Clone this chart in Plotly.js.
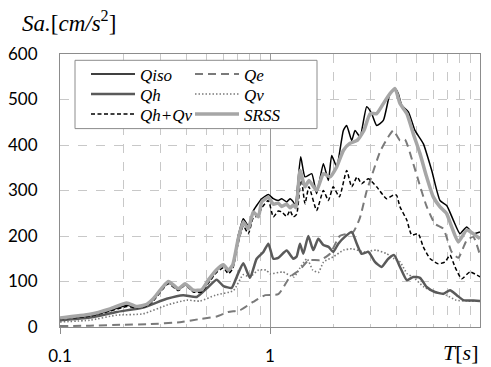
<!DOCTYPE html>
<html>
<head>
<meta charset="utf-8">
<script src="https://cdn.plot.ly/plotly-3.0.1.min.js"></script>
<style>html,body{margin:0;padding:0;background:#fff;}#chart{width:491px;height:367px;}</style>
</head>
<body>
<div id="chart"></div>
<script>
// Periods T [s] and spectral accelerations Sa [cm/s^2]
const T_Qiso = [0.1,0.139,0.173,0.208,0.232,0.259,0.278,0.328,0.366,0.394,0.431,0.473,0.508,0.557,0.6,0.633,0.664,0.706,0.746,0.789,0.832,0.864,0.913,0.982,1.037,1.095,1.137,1.2,1.245,1.291,1.32,1.40,1.468,1.58,1.668,1.795,1.897,1.967,2.078,2.235,2.318,2.449,2.54,2.683,2.887,3.05,3.222,3.465,3.728,3.94,4.08,4.24,4.56,4.9,5.37,5.89,6.45,6.94,7.46,8.03,8.64,9.29,10];
const Sa_Qiso = [18,25,36,48,43,48,60,97,82,93,79,79,100,124,135,122,134,200,238,222,255,267,282,291,282,278,282,275,282,275,266,374,330,337,293,359,322,377,352,432,443,410,432,418,484,469,443,454,513,524,513,487,473,432,403,344,278,267,235,205,220,205,209];

const T_SRSS = [0.1,0.139,0.173,0.208,0.232,0.259,0.278,0.328,0.366,0.394,0.431,0.473,0.508,0.557,0.6,0.633,0.664,0.706,0.746,0.789,0.832,0.88,0.913,0.982,1.037,1.095,1.137,1.2,1.245,1.291,1.33,1.39,1.468,1.533,1.668,1.795,1.93,2.078,2.235,2.39,2.6,2.8,3.0,3.22,3.465,3.728,3.94,4.16,4.48,4.81,5.18,5.57,5.99,6.45,6.94,7.33,7.88,8.64,9.29,10];
const Sa_SRSS = [20,28,40,53,45,50,62,100,84,95,81,82,103,126,137,125,136,194,231,216,253,242,275,285,270,272,265,270,262,268,262,344,308,322,300,337,330,352,388,403,410,432,469,469,491,513,524,491,469,425,381,330,286,264,249,220,187,213,205,194];

const T_QhQv = [0.1,0.139,0.173,0.208,0.232,0.259,0.278,0.328,0.366,0.394,0.431,0.473,0.508,0.557,0.6,0.633,0.664,0.706,0.746,0.789,0.832,0.88,0.913,0.982,1.037,1.095,1.137,1.2,1.245,1.291,1.34,1.405,1.468,1.533,1.668,1.795,1.897,2.0,2.14,2.318,2.449,2.6,2.73,2.94,3.22,3.59,3.87,4.0,4.16,4.48,4.73,5.08,5.37,5.79,6.33,6.81,7.2,7.6,8.18,8.96,10];
const Sa_QhQv = [17,24,35,45,42,46,57,95,80,92,77,77,96,120,130,117,128,185,222,205,240,245,262,278,242,255,253,243,256,242,248,330,271,308,256,300,278,308,286,344,308,330,315,326,308,282,290,290,264,235,202,205,176,150,139,143,158,132,106,121,110];

const T_Qe = [0.1,0.139,0.2,0.26,0.38,0.47,0.557,0.633,0.72,0.83,0.95,1.095,1.245,1.38,1.53,1.73,1.93,2.15,2.49,2.68,2.89,3.0,3.34,3.66,3.87,4.16,4.39,4.81,5.18,5.57,6.1,6.69,7.33,7.88,8.64,9.29,10];
const Sa_Qe = [2,3,5,6,11,18,23,33,37,55,70,72,110,125,147,147,161,200,209,240,300,322,385,418,432,410,412,359,310,265,227,216,165,152,190,198,158];

const T_Qh = [0.1,0.139,0.186,0.249,0.322,0.386,0.448,0.508,0.557,0.6,0.657,0.694,0.746,0.803,0.864,0.93,0.982,1.037,1.095,1.2,1.291,1.34,1.389,1.44,1.522,1.607,1.698,1.795,1.9,2.0,2.115,2.27,2.45,2.59,2.73,2.94,3.16,3.4,3.66,3.9,4.16,4.48,4.81,5.18,5.57,6.1,6.69,7.2,7.75,8.33,9.3,10];
const Sa_Qh = [15,21,33,43,62,70,66,88,104,90,86,110,140,108,150,165,183,150,152,168,150,155,183,161,200,169,194,180,176,165,183,198,209,183,161,165,143,132,150,158,132,103,110,108,88,77,73,81,70,59,58,57];

const T_Qv = [0.1,0.139,0.186,0.249,0.322,0.401,0.464,0.55,0.669,0.746,0.8,0.88,0.96,1.0,1.15,1.3,1.39,1.5,1.6,1.7,1.8,2.0,2.24,2.45,2.8,3.2,3.6,3.9,4.16,4.5,4.8,5.4,6.1,6.9,7.7,8.6,10];
const Sa_Qv = [11,15,26,29,48,59,57,70,80,115,110,125,125,117,121,110,130,150,125,120,143,154,169,172,165,169,161,150,143,117,110,88,77,70,59,57,57];

const xTickVals = [0.1, 1];
const xTickText = ['0.1', '1'];
const xMinorVals = [0.2,0.3,0.4,0.5,0.6,0.7,0.8,0.9,2,3,4,5,6,7,8,9];

const serif = 'Liberation Serif, Times New Roman, serif';
const sans = 'Lato, Liberation Sans, sans-serif';
const sm = 0.5;

const traces = [
  {name:'Qe', x:T_Qe, y:Sa_Qe, legend:'legend2',
   line:{color:'#7a7a7a', width:2, dash:'8px,5px', shape:'spline', smoothing:sm}},
  {name:'Qv', x:T_Qv, y:Sa_Qv, legend:'legend4',
   line:{color:'#7a7a7a', width:1.6, dash:'1.5px,2px', shape:'spline', smoothing:sm}},
  {name:'Qh', x:T_Qh, y:Sa_Qh, legend:'legend3',
   line:{color:'#5a5a5a', width:2.5, shape:'spline', smoothing:sm}},
  {name:'Qh+Qv', x:T_QhQv, y:Sa_QhQv, legend:'legend5',
   line:{color:'#000000', width:1.5, dash:'4px,2.5px', shape:'spline', smoothing:sm}},
  {name:'Qiso', x:T_Qiso, y:Sa_Qiso, legend:'legend',
   line:{color:'#000000', width:1.5, shape:'spline', smoothing:sm}},
  {name:'SRSS', x:T_SRSS, y:Sa_SRSS, legend:'legend6',
   line:{color:'#a6a6a6', width:3.5, shape:'spline', smoothing:sm}}
].map(t => Object.assign({type:'scatter', mode:'lines', hoverinfo:'skip'}, t));

const legendFont = {family: serif, size: 17, color:'#000', style:'italic'};
function lg(px, rowCenter) {
  return {
    x: (px - 60) / 420, y: (326.7 - (rowCenter - 16.5)) / 273,
    xanchor: 'left', yanchor: 'top',
    bgcolor: 'rgba(0,0,0,0)', borderwidth: 0,
    font: legendFont, itemwidth: 44
  };
}
const col1 = 86, col2 = 190;
const rows = [72.7, 92.7, 112.7];

const layout = {
  width: 491, height: 367,
  margin: {l: 60, r: 11, t: 54, b: 40, pad: 0},
  paper_bgcolor: '#fff', plot_bgcolor: '#fff',
  showlegend: true,
  xaxis: {
    type: 'log', range: [-1, 1],
    tickmode: 'array', tickvals: xTickVals, ticktext: xTickText,
    ticks: 'outside', ticklen: 6, tickcolor: '#8c8c8c', tickwidth: 1,
    showgrid: true, gridcolor: '#9a9a9a', gridwidth: 1,
    minor: {tickmode:'array', tickvals: xMinorVals, showgrid: true, gridcolor:'#c8c8c8', griddash:'dash', gridwidth:1, ticks:''},
    showline: true, linecolor: '#8c8c8c', linewidth: 1, mirror: true,
    zeroline: false,
    tickfont: {family: sans, size: 17, color: '#000'},
    ticklabelstandoff: 8
  },
  yaxis: {
    range: [0, 600], dtick: 100, tick0: 0,
    ticks: '', showgrid: true, gridcolor: '#c8c8c8', griddash: 'dash', gridwidth: 1,
    showline: true, linecolor: '#8c8c8c', linewidth: 1, mirror: true,
    zeroline: false,
    tickfont: {family: sans, size: 17, color: '#000'},
    ticklabelstandoff: 18
  },
  legend: lg(col1, rows[0]),
  legend3: lg(col1, rows[1]),
  legend5: lg(col1, rows[2]),
  legend2: lg(col2, rows[0]),
  legend4: lg(col2, rows[1]),
  legend6: lg(col2, rows[2]),
  shapes: [
    {type:'rect', xref:'paper', yref:'paper',
     x0: (75-60)/420, x1: (317-60)/420, y0: (326.7-128.3)/273, y1: (326.7-60)/273,
     line:{color:'#8c8c8c', width:1}, fillcolor:'#ffffff', layer:'above'}
  ],
  annotations: [
    {xref:'paper', yref:'paper', x: -0.095, y: 1.12, xanchor:'left', yanchor:'middle',
     text: '<i>Sa.</i>[<i>cm/s</i><sup>2</sup>]', showarrow:false,
     font:{family: serif, size: 23, color:'#000'}},
    {xref:'paper', yref:'paper', x: 1.0, y: -0.092, xanchor:'right', yanchor:'middle',
     text: '<i>T</i>[<i>s</i>]', showarrow:false,
     font:{family: serif, size: 22, color:'#000'}}
  ]
};

Plotly.newPlot('chart', traces, layout, {staticPlot: true, displayModeBar: false});
</script>
</body>
</html>
